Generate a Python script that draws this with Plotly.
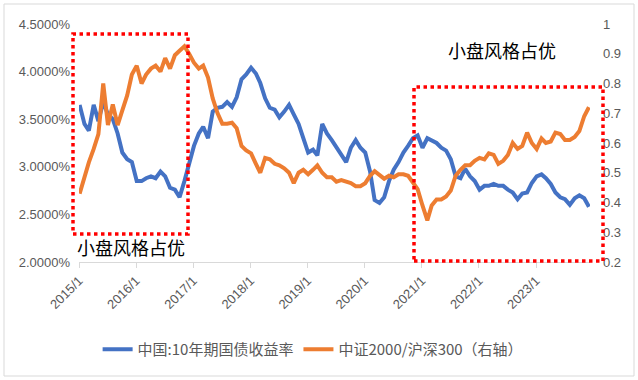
import pandas as pd
import plotly.graph_objects as go

# monthly observations, Jan 2015 .. Dec 2023
dates = pd.date_range("2015-01-01", periods=108, freq="MS") + pd.Timedelta(days=4)

bond_yield = [
    3.65, 3.45, 3.38, 3.65, 3.48, 3.68, 3.55, 3.50, 3.35, 3.15, 3.08, 3.05,
    2.85, 2.85, 2.88, 2.90, 2.88, 2.95, 2.90, 2.78, 2.76, 2.68, 2.85, 3.05,
    3.22, 3.35, 3.42, 3.30, 3.58, 3.62, 3.63, 3.68, 3.63, 3.73, 3.92, 3.97,
    4.04, 3.98, 3.88, 3.72, 3.62, 3.60, 3.52, 3.58, 3.65, 3.55, 3.45, 3.30,
    3.15, 3.18, 3.12, 3.45, 3.35, 3.28, 3.20, 3.12, 3.05, 3.20, 3.28, 3.20,
    3.15, 2.95, 2.65, 2.62, 2.68, 2.85, 2.97, 3.05, 3.15, 3.22, 3.30, 3.33,
    3.20, 3.30, 3.28, 3.25, 3.20, 3.17, 3.08, 2.90, 2.88, 2.98, 2.90, 2.85,
    2.76, 2.80, 2.80, 2.82, 2.80, 2.80, 2.76, 2.73, 2.66, 2.72, 2.73, 2.83,
    2.90, 2.92, 2.88, 2.82, 2.73, 2.68, 2.66, 2.60, 2.67, 2.70, 2.67, 2.58,
]

ratio_2000_300 = [
    0.43, 0.49, 0.535, 0.58, 0.63, 0.80, 0.66, 0.73, 0.66, 0.71, 0.76, 0.83,
    0.86, 0.80, 0.83, 0.85, 0.86, 0.84, 0.885, 0.85, 0.895, 0.91, 0.925, 0.90,
    0.87, 0.85, 0.86, 0.82, 0.75, 0.70, 0.665, 0.665, 0.668, 0.65, 0.59, 0.575,
    0.565, 0.53, 0.50, 0.55, 0.545, 0.53, 0.525, 0.515, 0.50, 0.465, 0.50, 0.51,
    0.495, 0.51, 0.525, 0.50, 0.485, 0.485, 0.47, 0.475, 0.47, 0.465, 0.455, 0.455,
    0.465, 0.49, 0.505, 0.49, 0.48, 0.49, 0.485, 0.495, 0.495, 0.49, 0.465, 0.445,
    0.39, 0.34, 0.39, 0.41, 0.41, 0.42, 0.44, 0.49, 0.51, 0.525, 0.525, 0.54,
    0.55, 0.545, 0.565, 0.56, 0.53, 0.54, 0.56, 0.60, 0.58, 0.59, 0.635, 0.60,
    0.58, 0.615, 0.60, 0.605, 0.635, 0.63, 0.61, 0.61, 0.62, 0.64, 0.69, 0.72,
]

x_tick_vals = ["2015-01-01", "2016-01-01", "2017-01-01", "2018-01-01", "2019-01-01",
               "2020-01-01", "2021-01-01", "2022-01-01", "2023-01-01"]
x_tick_text = ["2015/1", "2016/1", "2017/1", "2018/1", "2019/1",
               "2020/1", "2021/1", "2022/1", "2023/1"]
left_tick_vals = [2.0, 2.5, 3.0, 3.5, 4.0, 4.5]
left_tick_text = ["2.0000%", "2.5000%", "3.0000%", "3.5000%", "4.0000%", "4.5000%"]
right_tick_vals = [0.2, 0.3, 0.4, 0.5, 0.6, 0.7, 0.8, 0.9, 1.0]
right_tick_text = ["0.2", "0.3", "0.4", "0.5", "0.6", "0.7", "0.8", "0.9", "1"]

series_names = ["中国:10年期国债收益率", "中证2000/沪深300（右轴）"]
annotation_text = "小盘风格占优"

FONT = "Liberation Sans, Arial, Noto Sans CJK SC, sans-serif"
GRAY = "#595959"

fig = go.Figure()
fig.add_trace(go.Scatter(x=dates, y=bond_yield, name=series_names[0], mode="lines",
                         line=dict(color="#4472C4", width=4), yaxis="y"))
fig.add_trace(go.Scatter(x=dates, y=ratio_2000_300, name=series_names[1], mode="lines",
                         line=dict(color="#ED7D31", width=4), yaxis="y2"))

W, H = 638, 380
L, R, T, B = 79, 48, 24, 118
pw, ph = W - L - R, H - T - B


def px(xp):
    return (xp - L) / pw


def py(yp):
    return (H - B - yp) / ph


# red dotted boxes
for (x0, x1, y0, y1) in [(73, 188, 34, 234), (414, 603, 87, 261)]:
    fig.add_shape(type="rect", xref="paper", yref="paper",
                  x0=px(x0), x1=px(x1), y0=py(y1), y1=py(y0),
                  line=dict(color="#FF0000", width=3.5, dash="dot"))

# chart border
fig.add_shape(type="rect", xref="paper", yref="paper",
              x0=px(4), x1=px(634), y0=py(376), y1=py(4),
              line=dict(color="#d9d9d9", width=1))

fig.add_annotation(text=annotation_text, xref="paper", yref="paper",
                   x=px(131), y=py(247), showarrow=False, xanchor="center", yanchor="middle",
                   font=dict(family="Noto Sans CJK SC", size=18, color="#000000"))
fig.add_annotation(text=annotation_text, xref="paper", yref="paper",
                   x=px(502), y=py(50), showarrow=False, xanchor="center", yanchor="middle",
                   font=dict(family="Noto Sans CJK SC", size=18, color="#000000"))

fig.update_layout(
    template="none",
    width=W, height=H,
    margin=dict(l=L, r=R, t=T, b=B, autoexpand=False),
    paper_bgcolor="white", plot_bgcolor="white",
    font=dict(family=FONT, size=13, color=GRAY),
    showlegend=True,
    legend=dict(orientation="h", xref="container", yref="container",
                x=0.49, xanchor="center", y=0.08, yanchor="middle",
                font=dict(family="Noto Sans CJK SC, Liberation Sans", size=15, color=GRAY),
                itemwidth=30, tracegroupgap=0, bgcolor="rgba(0,0,0,0)"),
    xaxis=dict(type="date", range=["2015-01-01", "2023-12-12"], automargin=False,
               tickvals=x_tick_vals, ticktext=x_tick_text, tickangle=-45,
               ticks="outside", ticklen=5, tickcolor="#d9d9d9",
               showline=True, linecolor="#d9d9d9", linewidth=1,
               showgrid=False, zeroline=False,
               tickfont=dict(size=13, color=GRAY)),
    yaxis=dict(range=[2.0, 4.5], tickvals=left_tick_vals, ticktext=left_tick_text,
               automargin=False, showgrid=False, zeroline=False, showline=False, ticks="",
               ticklabelstandoff=8, tickfont=dict(size=13, color=GRAY)),
    yaxis2=dict(range=[0.2, 1.0], tickvals=right_tick_vals, ticktext=right_tick_text,
                automargin=False, overlaying="y", side="right", showgrid=False,
                zeroline=False, showline=False, ticks="", ticklabelstandoff=12,
                tickfont=dict(size=13, color=GRAY)),
)

fig.write_html("out.html", config={"displayModeBar": False},
               post_script="document.body.style.margin='0';document.body.style.overflow='hidden';")
